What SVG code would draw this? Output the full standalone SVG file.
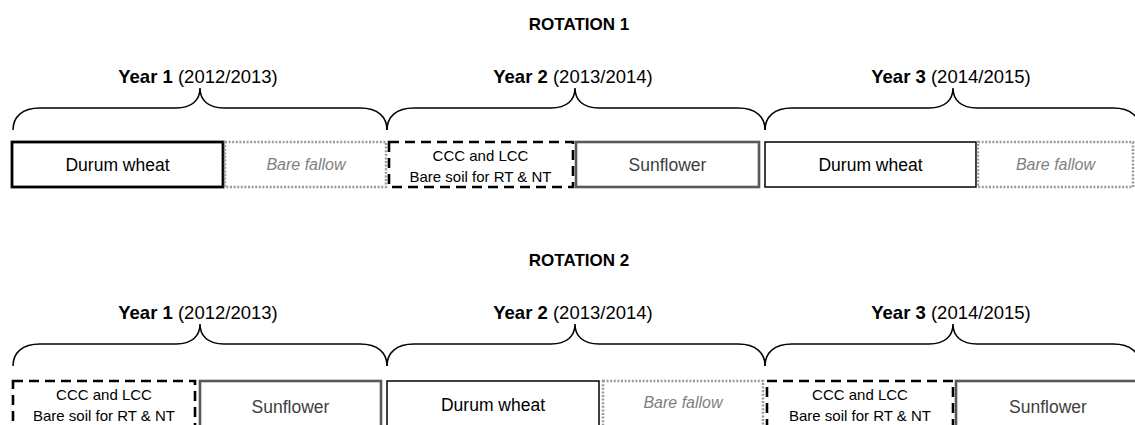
<svg xmlns="http://www.w3.org/2000/svg" width="1135" height="425" viewBox="0 0 1135 425">
<style>
text{font-family:"Liberation Sans",Arial,sans-serif;text-anchor:middle}
.rot{font-size:17px;font-weight:bold;fill:#000}
.yr{font-size:18.5px;fill:#000}
.yr tspan.b{font-weight:bold}
.lbl{font-size:17.5px;fill:#000}
.sun{font-size:17.5px;fill:#404040}
.fal{font-size:16px;font-style:italic;fill:#808080}
.cc{font-size:15px;fill:#000}
.brace{fill:none;stroke:#000;stroke-width:1.5}
.wheatB{fill:#fff;stroke:#000;stroke-width:2.8}
.wheat{fill:#fff;stroke:#000;stroke-width:1.5}
.fallow{fill:#fff;stroke:#9a9a9a;stroke-width:2.5;stroke-dasharray:2 1.6}
.cover{fill:#fff;stroke:#000;stroke-width:2.6;stroke-dasharray:10 6}
.sunbox{fill:#fff;stroke:#595959;stroke-width:2.6}
</style>
<g id="titles">
<text class="rot" x="579" y="30">ROTATION 1</text>
<text class="rot" x="579" y="266">ROTATION 2</text>
</g>
<g id="year-labels">
<text class="yr" x="198" y="83"><tspan class="b">Year 1</tspan> (2012/2013)</text>
<text class="yr" x="573" y="83"><tspan class="b">Year 2</tspan> (2013/2014)</text>
<text class="yr" x="951" y="83"><tspan class="b">Year 3</tspan> (2014/2015)</text>
<text class="yr" x="198" y="319"><tspan class="b">Year 1</tspan> (2012/2013)</text>
<text class="yr" x="573" y="319"><tspan class="b">Year 2</tspan> (2013/2014)</text>
<text class="yr" x="951" y="319"><tspan class="b">Year 3</tspan> (2014/2015)</text>
</g>
<g id="connectors">
<path class="brace" d="M13,130 C13,117 22,108 40,108 L176,108 C192,108 200,100 200,88 C200,100 208,108 224,108 L360,108 C378,108 387,117 387,130"/>
<path class="brace" d="M387,130 C387,117 396,108 414,108 L551,108 C567,108 575,100 575,88 C575,100 583,108 599,108 L738,108 C756,108 765,117 765,130"/>
<path class="brace" d="M765,130 C765,117 774,108 792,108 L929,108 C945,108 953,100 953,88 C953,100 961,108 977,108 L1113,108 C1131,108 1140,117 1140,130"/>
<path class="brace" d="M13,366 C13,353 22,344 40,344 L176,344 C192,344 200,336 200,324 C200,336 208,344 224,344 L360,344 C378,344 387,353 387,366"/>
<path class="brace" d="M387,366 C387,353 396,344 414,344 L551,344 C567,344 575,336 575,324 C575,336 583,344 599,344 L738,344 C756,344 765,353 765,366"/>
<path class="brace" d="M765,366 C765,353 774,344 792,344 L929,344 C945,344 953,336 953,324 C953,336 961,344 977,344 L1113,344 C1131,344 1140,353 1140,366"/>
</g>
<g id="r1-durum-wheat-1"><rect class="wheatB" x="12" y="142" width="211" height="45"/><text class="lbl" x="117.5" y="171">Durum wheat</text></g>
<g id="r1-bare-fallow-1"><rect class="fallow" x="225" y="142" width="161" height="45"/><text class="fal" x="306" y="170">Bare fallow</text></g>
<g id="r1-cover-crop"><rect class="cover" x="389" y="142" width="184" height="45"/><text class="cc" x="480.5" y="161">CCC and LCC</text><text class="cc" x="480.5" y="182">Bare soil for RT &amp; NT</text></g>
<g id="r1-sunflower"><rect class="sunbox" x="576" y="142" width="183" height="45"/><text class="sun" x="667.5" y="171">Sunflower</text></g>
<g id="r1-durum-wheat-2"><rect class="wheat" x="765" y="142" width="211" height="45"/><text class="lbl" x="870.5" y="171">Durum wheat</text></g>
<g id="r1-bare-fallow-2"><rect class="fallow" x="978" y="142" width="155" height="45"/><text class="fal" x="1055.5" y="170">Bare fallow</text></g>
<g id="r2-cover-crop-1"><rect class="cover" x="13" y="381" width="182" height="46"/><text class="cc" x="104" y="400">CCC and LCC</text><text class="cc" x="104" y="421">Bare soil for RT &amp; NT</text></g>
<g id="r2-sunflower-1"><rect class="sunbox" x="200" y="381" width="181" height="46"/><text class="sun" x="290.5" y="413">Sunflower</text></g>
<g id="r2-durum-wheat"><rect class="wheat" x="387" y="381" width="212" height="46"/><text class="lbl" x="493" y="411">Durum wheat</text></g>
<g id="r2-bare-fallow"><rect class="fallow" x="603" y="381" width="160" height="46"/><text class="fal" x="683" y="408">Bare fallow</text></g>
<g id="r2-cover-crop-2"><rect class="cover" x="767" y="381" width="186" height="46"/><text class="cc" x="860" y="400">CCC and LCC</text><text class="cc" x="860" y="421">Bare soil for RT &amp; NT</text></g>
<g id="r2-sunflower-2"><rect class="sunbox" x="956" y="381" width="184" height="46"/><text class="sun" x="1048" y="413">Sunflower</text></g>
</svg>
